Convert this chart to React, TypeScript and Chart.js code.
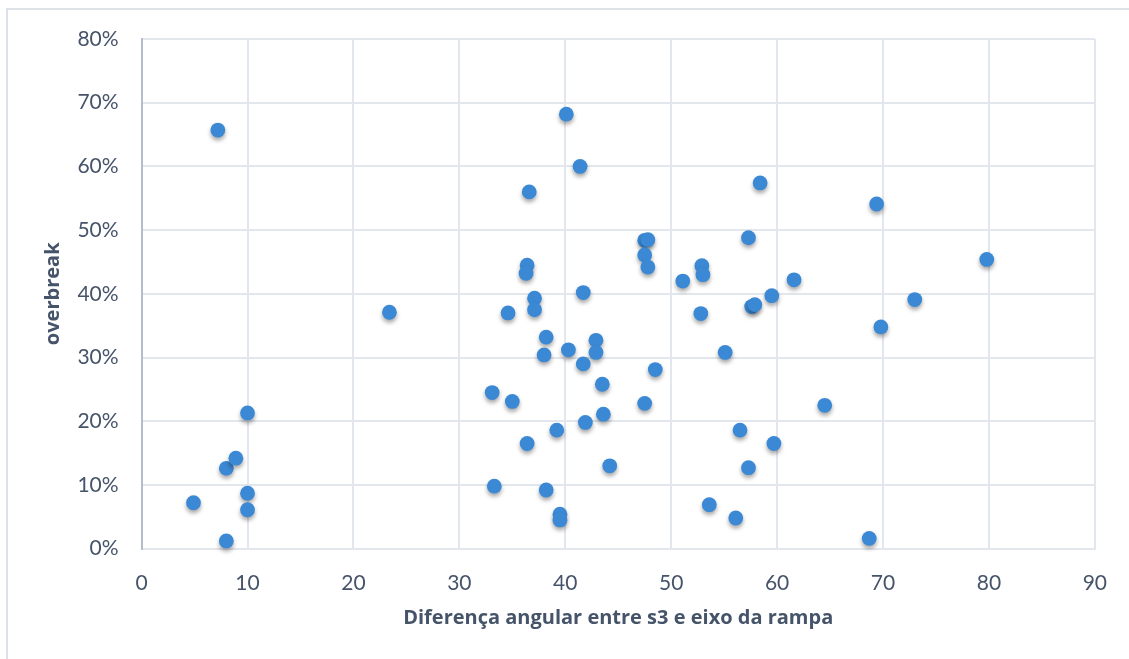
import React, { useEffect, useRef } from "react";
import { Chart, registerables } from "chart.js";

Chart.register(...registerables);

// Angular difference between s3 and the ramp axis (degrees)
const angleDiff = [
  7.2, 4.9, 8.0, 8.9, 10.0, 10.0, 10.0, 8.0, 23.4, 40.1,
  41.4, 36.6, 47.5, 47.8, 47.5, 47.8, 36.4, 36.3, 51.1, 37.1,
  37.1, 34.6, 41.7, 38.2, 42.9, 42.9, 38.0, 40.3, 41.7, 48.5,
  55.1, 43.5, 33.1, 35.0, 47.5, 43.6, 41.9, 39.2, 36.4, 44.2,
  56.5, 59.7, 57.3, 33.3, 38.2, 39.5, 39.5, 53.6, 56.1, 58.4,
  69.4, 57.3, 52.9, 53.0, 79.8, 61.6, 59.5, 57.6, 57.9, 73.0,
  52.8, 69.8, 64.5, 68.7,
];

// Overbreak (%)
const overbreak = [
  65.7, 7.2, 12.6, 14.2, 21.3, 8.7, 6.1, 1.2, 37.1, 68.2,
  60.0, 56.0, 48.4, 48.5, 46.1, 44.2, 44.5, 43.2, 42.0, 39.3,
  37.5, 37.0, 40.2, 33.2, 32.7, 30.8, 30.4, 31.2, 29.0, 28.1,
  30.8, 25.8, 24.5, 23.1, 22.8, 21.1, 19.8, 18.6, 16.5, 13.0,
  18.6, 16.5, 12.7, 9.8, 9.2, 5.4, 4.5, 6.9, 4.8, 57.4,
  54.1, 48.8, 44.4, 43.0, 45.4, 42.2, 39.7, 38.0, 38.3, 39.1,
  36.9, 34.8, 22.5, 1.6,
];

const xTitle = "Diferença angular entre s3 e eixo da rampa";
const yTitle = "overbreak";

const textColor = "#46546a";
const gridColor = "#e2e6ed";

// Soft drop shadow under the markers
const markerShadow = {
  id: "markerShadow",
  beforeDatasetsDraw(chart: any) {
    const ctx = chart.ctx;
    ctx.save();
    ctx.shadowColor = "rgba(0,0,0,0.35)";
    ctx.shadowBlur = 4;
    ctx.shadowOffsetX = 0;
    ctx.shadowOffsetY = 3;
  },
  afterDatasetsDraw(chart: any) {
    chart.ctx.restore();
  },
};

export default function App() {
  const canvasRef = useRef<HTMLCanvasElement>(null);

  useEffect(() => {
    if (!canvasRef.current) return;
    const points = angleDiff.map((x, i) => ({ x, y: overbreak[i] }));
    const chart = new Chart(canvasRef.current, {
      type: "scatter",
      data: {
        datasets: [
          {
            label: yTitle,
            data: points,
            backgroundColor: "#3b88d4",
            borderWidth: 0,
            pointRadius: 7.4,
            pointHoverRadius: 7.4,
            clip: false as any,
          },
        ],
      },
      plugins: [markerShadow],
      options: {
        animation: false,
        responsive: false,
        devicePixelRatio: 1,
        layout: { padding: { left: 41, right: 30, top: 39, bottom: 28.5 } },
        plugins: {
          legend: { display: false },
          tooltip: { enabled: false },
        },
        scales: {
          x: {
            type: "linear",
            min: 0,
            max: 90,
            ticks: {
              stepSize: 10,
              color: textColor,
              padding: 22,
              font: { family: "Lato", size: 21 },
            },
            grid: { color: gridColor, lineWidth: 2, drawTicks: false },
            border: { color: gridColor, width: 2 },
            title: {
              display: true,
              text: xTitle,
              color: textColor,
              padding: 0,
              font: { family: "Open Sans", size: 20, weight: "bold" },
            },
            afterFit(scale: any) {
              scale.height = 81.9;
            },
          },
          y: {
            type: "linear",
            min: 0,
            max: 80,
            ticks: {
              stepSize: 10,
              color: textColor,
              padding: 23,
              font: { family: "Lato", size: 21 },
              callback: (v: any) => `${v}%`,
            },
            grid: { color: gridColor, lineWidth: 2, drawTicks: false },
            border: { color: "#b4bdcc", width: 2 },
            title: {
              display: true,
              text: yTitle,
              color: textColor,
              padding: 0,
              font: { family: "Open Sans", size: 20, weight: "bold" },
            },
            afterFit(scale: any) {
              scale.width = 100.6;
            },
          },
        },
      },
    });
    return () => chart.destroy();
  }, []);

  return (
    <div
      style={{
        position: "absolute",
        left: 0,
        top: 0,
        width: 1129,
        height: 659,
        overflow: "hidden",
        background: "#ffffff",
      }}
    >
      <div
        style={{
          position: "absolute",
          left: 6,
          top: 8,
          width: 1300,
          height: 900,
          border: "2px solid #dde1e8",
        }}
      />
      <canvas
        ref={canvasRef}
        width={1129}
        height={659}
        style={{ position: "absolute", left: 0, top: 0 }}
      />
    </div>
  );
}
